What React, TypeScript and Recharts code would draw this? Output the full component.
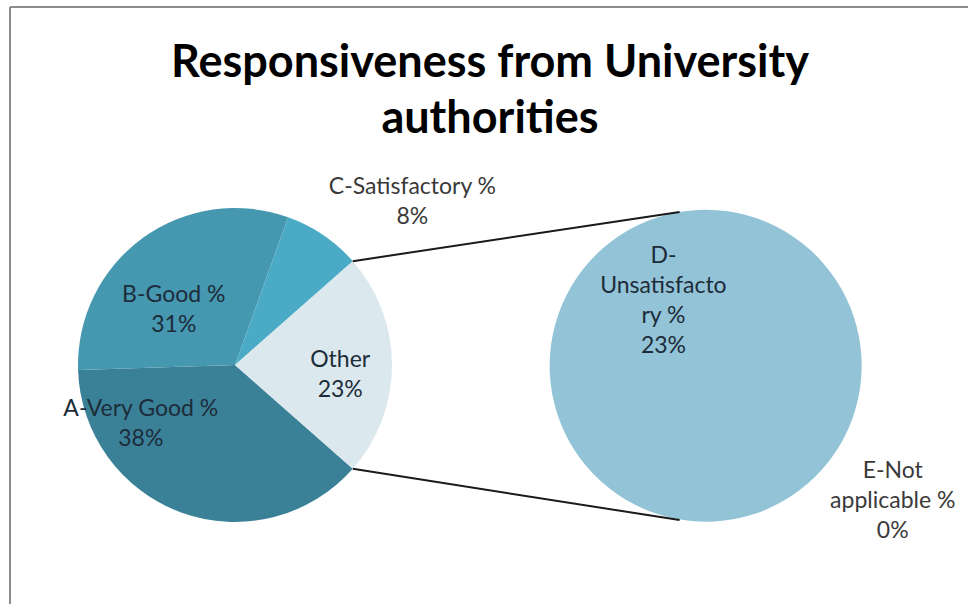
import React from 'react'
import { PieChart, Pie, Cell } from 'recharts'

// values (percent of responses)
const categories = ['A-Very Good %', 'B-Good %', 'C-Satisfactory %', 'D-Unsatisfactory %', 'E-Not applicable %']
const shares = [38, 31, 8, 23, 0]
// how Excel wrapped each label
const wrappedNames = [['A-Very Good %'], ['B-Good %'], ['C-Satisfactory %'], ['D-', 'Unsatisfacto', 'ry %'], ['E-Not', 'applicable %']]
// the last two categories go to the second pie
const splitAt = 3

const W = 968
const H = 604
const FONT = 'Lato, "Open Sans", sans-serif'

const mainColors = ['#3a8198', '#4697b0', '#4babc6', '#dbe8ee']
const secondColors = ['#93c3d6', '#93c3d6']

// label centre offsets, in units of the pie radius
const mainLabelOffsets = [[-0.6, 0.36], [-0.39, -0.36], [1.13, -1.05], [0.67, 0.05]]
const secondLabelOffsets = [[-0.26, -0.43], [1.21, 0.85]]

const LEFT = { cx: 235, cy: 365, r: 157 }
const RIGHT = { cx: 704, cy: 366, r: 156 }

const otherShare = shares.slice(splitAt).reduce((a, b) => a + b, 0)
const mainData = [
  ...categories.slice(0, splitAt).map((name, i) => ({ name, value: shares[i], lines: wrappedNames[i] })),
  { name: 'Other', value: otherShare, lines: ['Other'] }
]
const secondData = categories.slice(splitAt).map((name, i) => ({
  name,
  value: shares[splitAt + i],
  lines: wrappedNames[splitAt + i]
}))

// Excel centres the "Other" slice on the right-hand side
const halfOther = (otherShare / 100) * 360 / 2

function makeLabel(offsets: number[][], dark: boolean[]) {
  return (props: any) => {
    const { cx, cy, outerRadius, index, payload } = props
    const [ox, oy] = offsets[index]
    const x = cx + ox * outerRadius
    const y = cy + oy * outerRadius
    const lines: string[] = [...payload.lines, `${payload.value}%`]
    const lh = 30
    const y0 = y - ((lines.length - 1) * lh) / 2
    return (
      <text
        x={x}
        y={y0}
        textAnchor="middle"
        dominantBaseline="central"
        fontFamily={FONT}
        fontSize={23}
        fill={dark[index] ? '#1d2c3a' : '#3a3a3a'}
      >
        {lines.map((l, i) => (
          <tspan key={i} x={x} dy={i === 0 ? 0 : lh}>
            {l}
          </tspan>
        ))}
      </text>
    )
  }
}

function polar(c: { cx: number; cy: number; r: number }, deg: number) {
  const a = (deg * Math.PI) / 180
  return [c.cx + c.r * Math.cos(a), c.cy - c.r * Math.sin(a)]
}

export default function App() {
  const [t1x, t1y] = polar(LEFT, halfOther)
  const [b1x, b1y] = polar(LEFT, -halfOther)
  const [t2x, t2y] = polar(RIGHT, 99)
  const [b2x, b2y] = polar(RIGHT, -99)
  return (
    <div style={{ position: 'absolute', left: 0, top: 0, width: W, height: H, background: '#fff' }}>
      <PieChart
        width={W}
        height={H}
        margin={{ top: 0, right: 0, bottom: 0, left: 0 }}
        style={{ position: 'absolute', left: 0, top: 0 }}
      >
        <Pie
          data={mainData}
          dataKey="value"
          cx={LEFT.cx}
          cy={LEFT.cy}
          outerRadius={LEFT.r}
          startAngle={-halfOther}
          endAngle={-halfOther - 360}
          stroke="none"
          labelLine={false}
          label={makeLabel(mainLabelOffsets, [true, true, false, true])}
          isAnimationActive={false}
        >
          {mainData.map((d, i) => (
            <Cell key={d.name} fill={mainColors[i]} />
          ))}
        </Pie>
        <Pie
          data={secondData}
          dataKey="value"
          cx={RIGHT.cx}
          cy={RIGHT.cy}
          outerRadius={RIGHT.r}
          startAngle={100}
          endAngle={-260}
          stroke="none"
          minAngle={0}
          labelLine={false}
          label={makeLabel(secondLabelOffsets, [true, false])}
          isAnimationActive={false}
        >
          {secondData.map((d, i) => (
            <Cell key={d.name} fill={secondColors[i]} />
          ))}
        </Pie>
      </PieChart>
      <svg width={W} height={H} style={{ position: 'absolute', left: 0, top: 0, pointerEvents: 'none' }}>
        <line x1={10} y1={7} x2={W} y2={7} stroke="#8c8c8c" strokeWidth={2} />
        <line x1={10} y1={7} x2={10} y2={H} stroke="#8c8c8c" strokeWidth={2} />
        <line x1={t1x} y1={t1y} x2={t2x} y2={t2y} stroke="#1a1a1a" strokeWidth={2} />
        <line x1={b1x} y1={b1y} x2={b2x} y2={b2y} stroke="#1a1a1a" strokeWidth={2} />
        <text x={490} y={77} textAnchor="middle" fontFamily={FONT} fontWeight={700} fontSize={45} fill="#000">
          Responsiveness from University
        </text>
        <text x={490} y={133} textAnchor="middle" fontFamily={FONT} fontWeight={700} fontSize={45} fill="#000">
          authorities
        </text>
      </svg>
    </div>
  )
}
